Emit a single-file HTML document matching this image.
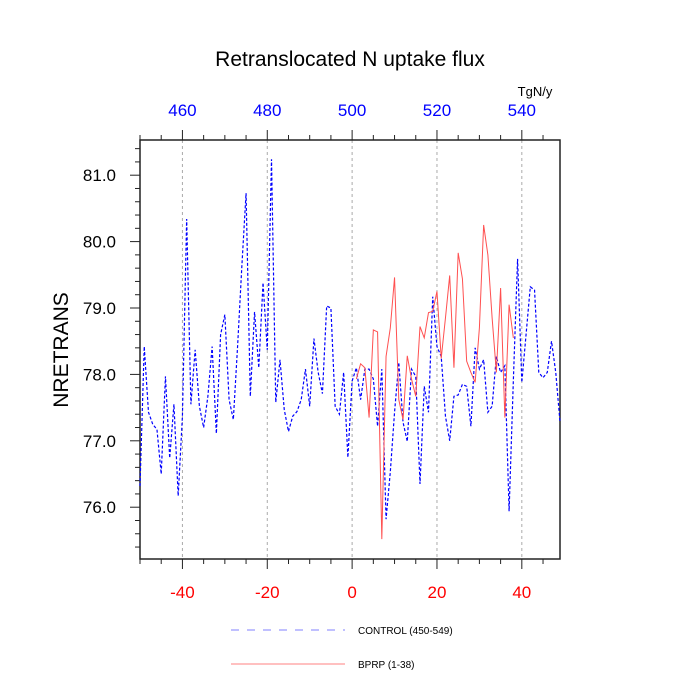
<!DOCTYPE html>
<html><head><meta charset="utf-8"><style>
body{margin:0;background:#fff;}
svg{display:block;font-family:"Liberation Sans",sans-serif;}
</style></head><body>
<svg id="chart" width="700" height="700" viewBox="0 0 700 700">
<rect width="700" height="700" fill="#fff"/>
<text x="350" y="66" font-size="21" text-anchor="middle">Retranslocated N uptake flux</text>
<text x="535" y="96" font-size="13" text-anchor="middle">TgN/y</text>
<text transform="translate(68,350) rotate(-90)" font-size="21" text-anchor="middle">NRETRANS</text>
<g id="grid"></g>
<g id="axes"></g>
<g id="series"></g>
<g>
<line x1="231" y1="630" x2="345" y2="630" stroke="#8080ff" stroke-width="1" stroke-dasharray="8,8"/>
<text x="358" y="634" font-size="10">CONTROL (450-549)</text>
<line x1="231" y1="664" x2="345" y2="664" stroke="#ff8080" stroke-width="1"/>
<text x="358" y="668" font-size="10">BPRP (1-38)</text>
</g>
</svg>
<script>
const controlYears = Array.from({length:100},(_,i)=>i-50);
const controlValues = [76.32,78.42,77.43,77.25,77.17,76.5,77.97,76.74,77.55,76.17,
77.37,80.34,77.55,78.37,77.52,77.2,77.67,78.42,77.11,78.6,
78.9,77.62,77.32,78.42,79.62,80.73,77.67,78.94,78.1,79.38,
78.37,81.24,77.58,78.22,77.47,77.14,77.37,77.44,77.62,78.08,
77.52,78.54,78.03,77.71,79.03,79.0,77.52,77.4,78.03,76.75,
77.9,78.1,77.62,78.08,78.08,77.93,77.22,78.08,75.82,76.53,
77.43,78.18,77.28,76.99,78.08,77.97,76.35,77.82,77.43,79.17,
78.42,78.27,77.37,77.0,77.67,77.69,77.85,77.82,77.22,78.4,
78.08,78.22,77.43,77.52,78.27,78.03,78.13,75.94,77.9,79.74,
77.88,78.6,79.32,79.27,78.03,77.95,78.03,78.5,78.03,77.28];
const bprpYears = Array.from({length:38},(_,i)=>i+1);
const bprpValues = [77.93,78.16,78.1,77.35,78.67,78.64,75.52,78.27,78.7,79.46,
77.62,77.32,78.28,77.93,77.67,78.72,78.55,78.93,78.95,79.25,
78.24,78.85,79.49,78.1,79.83,79.44,78.2,78.03,77.88,78.7,
80.25,79.8,78.85,78.03,79.3,77.35,79.05,78.55];
const xTicks = [-40,-20,0,20,40];
const topTicks = [460,480,500,520,540];
const yTicks = [76,77,78,79,80,81];

const L=140,R=560,T=140,B=559;
const xMin=-50,xMax=49,yMin=75.22,yMax=81.53;
const xs=v=>L+(v-xMin)/(xMax-xMin)*(R-L);
const ys=v=>B-(v-yMin)/(yMax-yMin)*(B-T);
const NS="http://www.w3.org/2000/svg";
function mk(tag,attrs,parent){const e=document.createElementNS(NS,tag);for(const k in attrs)e.setAttribute(k,attrs[k]);parent.appendChild(e);return e;}
const grid=document.getElementById('grid'),axes=document.getElementById('axes'),series=document.getElementById('series');

xTicks.forEach(v=>{
  const g=mk('line',{x1:xs(v),x2:xs(v),y1:T,y2:B,stroke:'#aaa','stroke-width':1,'stroke-dasharray':'3,3'},grid);
  
  
});
const frame=mk('rect',{x:L,y:T,width:R-L,height:B-T,fill:'none',stroke:'#222','stroke-width':1.5},axes);


for(let v=-50;v<=49;v+=5){
  const major=v%20===0;
  const t=mk('line',{x1:xs(v),x2:xs(v),y1:B,y2:B+(major?10:5),stroke:'#222','stroke-width':1},axes);
  
  
  const t2=mk('line',{x1:xs(v),x2:xs(v),y1:T,y2:T-(major?10:5),stroke:'#222','stroke-width':1},axes);
  
  
}
xTicks.forEach(v=>{
  const t=mk('text',{x:xs(v),y:598,'font-size':17,fill:'#f00','text-anchor':'middle'},axes);
  t.textContent=v;
  
  
});
topTicks.forEach(v=>{
  const t=mk('text',{x:xs(v-500),y:116,'font-size':17,fill:'#00f','text-anchor':'middle'},axes);
  t.textContent=v;
  
  
});
for(let i=Math.ceil(yMin*5);i<=Math.floor(yMax*5);i++){
  const v=i/5,major=i%5===0;
  const t=mk('line',{x1:L-(major?10:5),x2:L,y1:ys(v),y2:ys(v),stroke:'#222','stroke-width':1},axes);
  
  
}
yTicks.forEach(v=>{
  const t=mk('text',{x:116,y:ys(v)+6,'font-size':17,'text-anchor':'end'},axes);
  t.textContent=v.toFixed(1);
  
  
});
const cp=mk('polyline',{points:controlYears.map((x,i)=>xs(x)+','+ys(controlValues[i])).join(' '),fill:'none',stroke:'#0000ff','stroke-width':1.2,'stroke-dasharray':'3,2'},series);


const bp=mk('polyline',{points:bprpYears.map((x,i)=>xs(x)+','+ys(bprpValues[i])).join(' '),fill:'none',stroke:'#ff5050','stroke-width':1},series);


</script>
</body></html>
